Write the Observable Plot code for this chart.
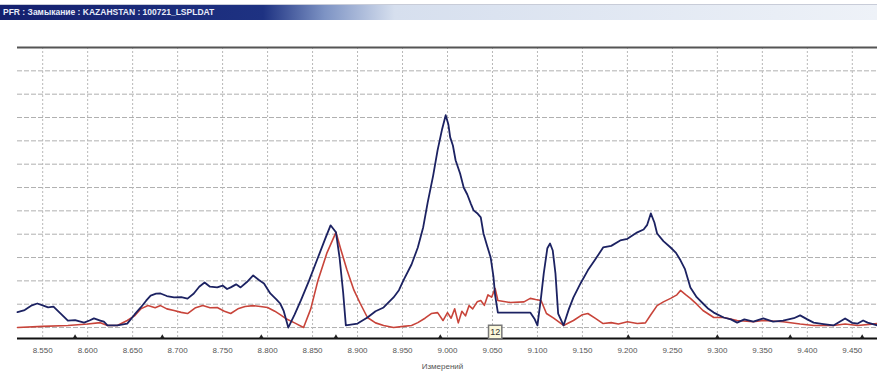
<!DOCTYPE html>
<html>
<head>
<meta charset="utf-8">
<script src="https://cdn.jsdelivr.net/npm/d3@7"></script>
<script src="https://cdn.jsdelivr.net/npm/@observablehq/plot@0.6"></script>
<style>
  html, body { margin: 0; padding: 0; background: #fff; width: 877px; height: 375px; overflow: hidden; }
  #title { height: 16px; margin-top: 4px; border-top: 1px solid #c8ccd8;
           background: linear-gradient(to right, #14206e 0%, #1e3282 30%, #7d93c4 37%, #d6dfee 45%, #eef2f8 100%);
           color: #e8ecf8; font: bold 8.5px "Liberation Sans", Arial, sans-serif; line-height: 15px; padding-left: 3px; white-space: nowrap; box-sizing: border-box; }
  #chart svg { display: block; }
  #xlabel { text-align: center; font: 8px "Liberation Sans", Arial, sans-serif; color: #555; line-height: 10px; height: 13px; padding-left: 8px; }
</style>
</head>
<body>
<div id="title"></div>
<div id="chart"></div>
<div id="xlabel"></div>
<script>
const titleText = "PFR : Замыкание : KAZAHSTAN : 100721_LSPLDAT";
const xLabel = "Измерений";
const xTicks = [8.55, 8.60, 8.65, 8.70, 8.75, 8.80, 8.85, 8.90, 8.95, 9.00, 9.05, 9.10, 9.15, 9.20, 9.25, 9.30, 9.35, 9.40, 9.45];
const yGrid = [0, 1, 2, 3, 4, 5, 6, 7, 8, 9, 10, 11];
const yDomain = [-0.47, 12];
const xDomain = [8.522, 9.478];

const blueX = [8.522,8.530,8.538,8.544,8.550,8.556,8.562,8.570,8.578,8.586,8.596,8.602,8.607,8.614,8.618,8.622,8.633,8.644,8.652,8.659,8.665,8.670,8.676,8.681,8.688,8.696,8.704,8.711,8.718,8.724,8.730,8.736,8.744,8.750,8.755,8.759,8.765,8.770,8.777,8.784,8.790,8.796,8.803,8.810,8.814,8.818,8.823,8.830,8.837,8.846,8.856,8.864,8.870,8.876,8.880,8.884,8.887,8.900,8.911,8.920,8.929,8.935,8.940,8.946,8.951,8.960,8.967,8.973,8.978,8.984,8.989,8.994,8.998,9.001,9.003,9.006,9.009,9.014,9.018,9.022,9.026,9.029,9.033,9.037,9.040,9.044,9.048,9.051,9.053,9.056,9.070,9.092,9.097,9.100,9.104,9.107,9.111,9.114,9.117,9.120,9.123,9.129,9.135,9.140,9.148,9.156,9.164,9.173,9.182,9.192,9.200,9.211,9.218,9.222,9.226,9.230,9.233,9.240,9.248,9.254,9.259,9.264,9.270,9.277,9.284,9.290,9.296,9.307,9.315,9.322,9.330,9.340,9.351,9.362,9.373,9.385,9.392,9.400,9.407,9.418,9.429,9.442,9.450,9.456,9.462,9.467,9.478];
const blueY = [0.66,0.75,0.95,1.03,0.95,0.86,0.90,0.60,0.30,0.32,0.21,0.30,0.39,0.30,0.25,0.09,0.09,0.17,0.55,0.86,1.15,1.37,1.45,1.46,1.35,1.29,1.30,1.24,1.46,1.75,1.93,1.75,1.72,1.80,1.65,1.72,1.85,1.72,1.95,2.23,2.05,1.89,1.46,1.20,1.03,0.70,0.0,0.55,1.16,2.0,3.0,3.8,4.38,4.08,3.0,1.5,0.09,0.17,0.43,0.70,0.86,1.10,1.29,1.60,2.02,2.70,3.43,4.30,5.36,6.50,7.60,8.50,9.10,8.70,8.15,7.80,7.17,6.60,6.00,5.70,5.30,5.02,4.90,4.72,4.03,3.50,3.00,2.20,1.37,0.64,0.64,0.64,0.35,0.09,1.30,2.32,3.40,3.60,3.30,2.32,0.60,0.09,0.80,1.29,1.90,2.45,2.90,3.43,3.50,3.73,3.80,4.08,4.20,4.40,4.89,4.50,4.03,3.70,3.43,3.20,2.88,2.50,1.72,1.30,1.03,0.80,0.64,0.43,0.35,0.21,0.35,0.25,0.39,0.25,0.30,0.40,0.52,0.35,0.21,0.15,0.09,0.39,0.20,0.17,0.30,0.21,0.09];

const redX = [8.522,8.550,8.578,8.600,8.614,8.622,8.633,8.644,8.652,8.659,8.667,8.675,8.681,8.688,8.696,8.704,8.711,8.720,8.728,8.736,8.744,8.752,8.759,8.767,8.775,8.784,8.792,8.800,8.808,8.814,8.820,8.830,8.840,8.848,8.856,8.866,8.876,8.881,8.888,8.896,8.903,8.911,8.920,8.929,8.940,8.951,8.960,8.967,8.975,8.982,8.989,8.995,9.000,9.004,9.008,9.012,9.016,9.020,9.024,9.028,9.033,9.037,9.041,9.045,9.049,9.053,9.056,9.070,9.085,9.092,9.098,9.104,9.110,9.118,9.129,9.140,9.150,9.156,9.164,9.173,9.182,9.190,9.200,9.211,9.220,9.226,9.233,9.240,9.248,9.255,9.259,9.265,9.270,9.277,9.284,9.296,9.307,9.322,9.340,9.351,9.373,9.392,9.407,9.429,9.442,9.456,9.478];
const redY = [0.0,0.05,0.09,0.15,0.21,0.09,0.09,0.30,0.50,0.80,0.94,0.85,0.94,0.80,0.73,0.65,0.60,0.85,0.94,0.85,0.86,0.70,0.60,0.80,0.90,0.94,0.90,0.86,0.70,0.55,0.39,0.20,0.0,0.80,2.02,3.20,4.08,3.40,2.50,1.60,1.03,0.43,0.20,0.09,0.0,0.05,0.09,0.21,0.40,0.60,0.64,0.30,0.64,0.40,0.80,0.20,0.70,0.50,0.94,0.80,1.10,1.16,0.95,1.40,1.30,1.67,1.16,1.07,1.10,1.25,1.20,1.16,0.60,0.40,0.09,0.30,0.55,0.60,0.40,0.17,0.21,0.15,0.25,0.17,0.20,0.55,0.94,1.10,1.25,1.40,1.59,1.40,1.25,1.00,0.73,0.43,0.43,0.30,0.25,0.30,0.25,0.15,0.09,0.09,0.15,0.09,0.17];

const eventX = [8.586, 8.683, 8.793, 8.876, 8.992, 9.201, 9.300, 9.381, 9.461];
const markerX = [9.053];
const markerLabel = ["12"];

const blue = blueX.map((x, i) => ({x, y: blueY[i]}));
const red = redX.map((x, i) => ({x, y: redY[i]}));
const markers = markerX.map((x, i) => ({x, label: markerLabel[i]}));

document.getElementById("title").textContent = titleText;
document.getElementById("xlabel").textContent = xLabel;

const chart = Plot.plot({
  width: 877,
  height: 342,
  marginTop: 27,
  marginBottom: 24,
  marginLeft: 17,
  marginRight: 0,
  style: {fontFamily: "'Liberation Sans', Arial, sans-serif", fontSize: "8px", color: "#555", background: "#fff"},
  x: {domain: xDomain, ticks: xTicks, tickFormat: d3.format(".3f"), tickSize: 0, tickPadding: 9, label: null},
  y: {domain: yDomain, axis: null},
  marks: [
    Plot.ruleY(yGrid, {stroke: "#b0b0b0", strokeWidth: 1, strokeDasharray: "5,2"}),
    Plot.ruleX(xTicks, {stroke: "#b8b8b8", strokeWidth: 1, strokeDasharray: "2,2"}),
    Plot.ruleY([yDomain[1]], {stroke: "#555", strokeWidth: 2}),
    Plot.line(red, {x: "x", y: "y", stroke: "#c8443a", strokeWidth: 1.6}),
    Plot.line(blue, {x: "x", y: "y", stroke: "#1c2262", strokeWidth: 1.8}),
    Plot.ruleY([yDomain[0]], {stroke: "#111", strokeWidth: 2}),
    Plot.dot(eventX, {x: d => d, y: yDomain[0], symbol: "triangle", r: 1.8, fill: "#222", dy: -1.5}),
    Plot.dot(markers, {x: "x", y: yDomain[0], symbol: "square", r: 7.5, fill: "#fbf8dc", stroke: "#777", dy: -6.5}),
    Plot.text(markers, {x: "x", y: yDomain[0], text: "label", dy: -6.5, fontSize: 9, fill: "#333"})
  ]
});
document.getElementById("chart").appendChild(chart);
</script>
</body>
</html>
